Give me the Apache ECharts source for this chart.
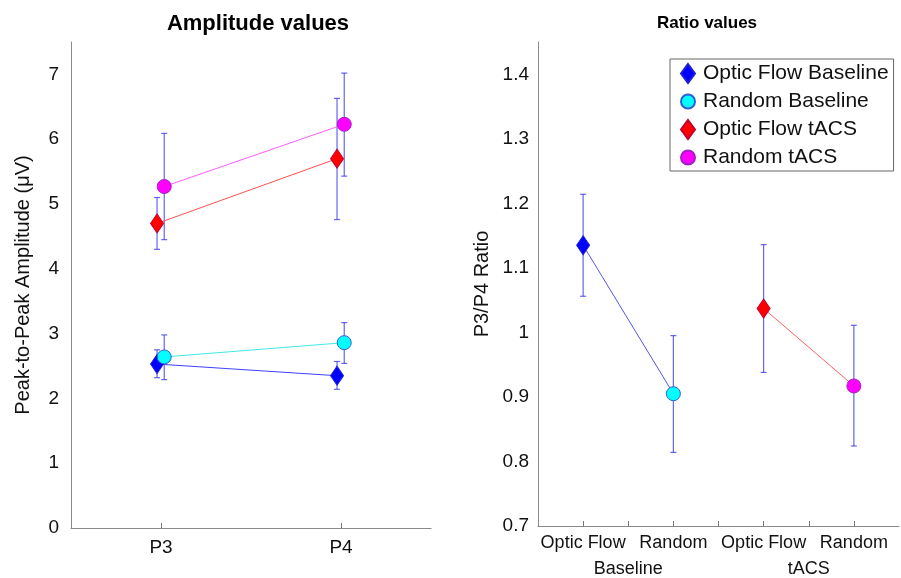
<!DOCTYPE html>
<html><head><meta charset="utf-8">
<script src="https://cdn.jsdelivr.net/npm/echarts@6/dist/echarts.min.js"></script>
<style>html,body{margin:0;padding:0;background:#fff}#c{width:901px;height:578px}</style>
</head><body><div id="c"></div>
<script>
// ---- data ----
const ampChannels = ['P3', 'P4'];
const ampOFBase = [2.53, 2.35];
const ampOFBaseLo = [2.32, 2.14];
const ampOFBaseHi = [2.75, 2.57];
const ampRandBase = [2.64, 2.86];
const ampRandBaseLo = [2.29, 2.54];
const ampRandBaseHi = [2.98, 3.17];
const ampOFtACS = [4.70, 5.70];
const ampOFtACSLo = [4.30, 4.76];
const ampOFtACSHi = [5.10, 6.63];
const ampRandtACS = [5.27, 6.23];
const ampRandtACSLo = [4.45, 5.43];
const ampRandtACSHi = [6.09, 7.02];

const ratioConditions = ['Optic Flow', 'Random', 'Optic Flow', 'Random'];
const ratioGroups = ['Baseline', 'tACS'];
const ratioMeans = [1.135, 0.905, 1.037, 0.917];
const ratioLo = [1.056, 0.814, 0.938, 0.824];
const ratioHi = [1.214, 0.995, 1.136, 1.011];

const seriesNames = ['Optic Flow Baseline', 'Random Baseline', 'Optic Flow tACS', 'Random tACS'];

// ---- styles ----
const FONT = 'Liberation Sans, Arial, sans-serif';
const fill = ['#0000ff', '#00ffff', '#ff0000', '#ff00ff'];
const lineCol = ['#4040ff', '#40e8e8', '#ff5050', '#ff5cff'];
const edge = ['#2020d0', '#3060d0', '#c00030', '#a020c0'];
const shapes = ['diamond', 'circle', 'diamond', 'circle'];
const sizes = [[13, 19], 14, [13, 19], 14];
const errCol = 'rgba(50,50,240,0.75)';
const offs = [-0.022, 0.018, -0.022, 0.018];

const chart = echarts.init(document.getElementById('c'), null, {renderer: 'canvas'});

function errRender(params, api) {
  const x = api.value(0);
  const p1 = api.coord([x, api.value(1)]);
  const p2 = api.coord([x, api.value(2)]);
  const c = 3;
  const st = {stroke: errCol, lineWidth: 1.2};
  return {type: 'group', children: [
    {type: 'line', shape: {x1: p1[0], y1: p1[1], x2: p2[0], y2: p2[1]}, style: st},
    {type: 'line', shape: {x1: p1[0]-c, y1: p1[1], x2: p1[0]+c, y2: p1[1]}, style: st},
    {type: 'line', shape: {x1: p2[0]-c, y1: p2[1], x2: p2[0]+c, y2: p2[1]}, style: st}
  ]};
}

const ampSets = [
  [ampOFBase, ampOFBaseLo, ampOFBaseHi],
  [ampRandBase, ampRandBaseLo, ampRandBaseHi],
  [ampOFtACS, ampOFtACSLo, ampOFtACSHi],
  [ampRandtACS, ampRandtACSLo, ampRandtACSHi]
];

const series = [];
// left panel
ampSets.forEach((set, k) => {
  const [m, lo, hi] = set;
  series.push({
    type: 'custom', xAxisIndex: 0, yAxisIndex: 0, renderItem: errRender, z: 3, silent: true,
    data: m.map((v, i) => [i + 1 + offs[k], lo[i], hi[i]])
  });
  series.push({
    type: 'line', name: seriesNames[k], xAxisIndex: 0, yAxisIndex: 0, z: 4,
    symbol: shapes[k], symbolSize: sizes[k],
    itemStyle: {color: fill[k], borderColor: edge[k], borderWidth: 1},
    lineStyle: {color: lineCol[k], width: 1},
    data: m.map((v, i) => [i + 1 + offs[k], v])
  });
});
// right panel connecting lines (Baseline pair, tACS pair)
ratioGroups.forEach((g, gi) => {
  series.push({
    type: 'line', name: g + ' line', xAxisIndex: 1, yAxisIndex: 1, symbol: 'none', z: 2,
    lineStyle: {color: gi === 0 ? '#5555ee' : '#ff6060', width: 1},
    data: [0, 1].map(j => [gi * 2 + j + 1, ratioMeans[gi * 2 + j]])
  });
});
series.push({
  type: 'custom', xAxisIndex: 1, yAxisIndex: 1, renderItem: errRender, z: 3, silent: true,
  data: ratioMeans.map((v, i) => [i + 1, ratioLo[i], ratioHi[i]])
});
ratioMeans.forEach((v, i) => {
  series.push({
    type: 'scatter', name: seriesNames[i], xAxisIndex: 1, yAxisIndex: 1, z: 5,
    symbol: shapes[i], symbolSize: sizes[i],
    itemStyle: {color: fill[i], borderColor: edge[i], borderWidth: 1, opacity: 1},
    data: [[i + 1, v]]
  });
});

const condLabelMap = {};
ratioConditions.forEach((c, i) => { condLabelMap[String(i + 1)] = c; });
const groupLabelMap = {};
ratioGroups.forEach((g, i) => { groupLabelMap[String(i * 2 + 1.5)] = g; });

const axLine = {show: true, lineStyle: {color: '#8a8a8a', width: 1}};
const lbl = {color: '#111', fontFamily: FONT, fontSize: 19};

chart.setOption({
  animation: false,
  backgroundColor: '#fff',
  title: [
    {text: 'Amplitude values', left: 253, top: 8, textAlign: 'center',
     textStyle: {fontFamily: FONT, fontWeight: 'bold', fontSize: 22, color: '#000'}},
    {text: 'Ratio values', left: 702, top: 10, textAlign: 'center',
     textStyle: {fontFamily: FONT, fontWeight: 'bold', fontSize: 17, color: '#000'}}
  ],
  legend: {
    orient: 'vertical', left: 670, top: 59,
    data: seriesNames.map((n, i) => ({name: n, icon: shapes[i]})),
    itemWidth: 14, itemHeight: 19, itemGap: 7,
    padding: [4, 5, 3, 10],
    borderColor: '#666', borderWidth: 1, backgroundColor: '#fff',
    textStyle: {fontFamily: FONT, fontSize: 21, color: '#111', padding: [0, 0, 0, 3]},
    selectedMode: false
  },
  grid: [
    {left: 71, right: 470, top: 42, bottom: 50},
    {left: 538, right: 2, top: 42, bottom: 50}
  ],
  xAxis: [
    {type: 'value', gridIndex: 0, min: 0.5, max: 2.5, interval: 0.5,
     axisLine: axLine, splitLine: {show: false},
     axisTick: {show: true, inside: true, length: 5, lineStyle: {color: '#777'}, customValues: [1, 2]},
     axisLabel: Object.assign({}, lbl, {margin: 10, customValues: [1, 2],
       formatter: v => ampChannels[Math.round(v) - 1] || ''})},
    {type: 'value', gridIndex: 1, min: 0.5, max: 4.5, interval: 0.5,
     axisLine: axLine, splitLine: {show: false},
     axisTick: {show: true, inside: true, length: 5, lineStyle: {color: '#777'}, customValues: [1, 1.5, 2, 2.5, 3, 3.5, 4]},
     axisLabel: Object.assign({}, lbl, {margin: 8, fontSize: 18, customValues: [1, 2, 3, 4],
       formatter: v => condLabelMap[String(v)] || ''})},
    {type: 'value', gridIndex: 1, min: 0.5, max: 4.5, interval: 0.5, position: 'bottom',
     axisLine: {show: false}, axisTick: {show: false}, splitLine: {show: false},
     axisLabel: Object.assign({}, lbl, {margin: 34, fontSize: 18, customValues: [1.5, 3.5],
       formatter: v => groupLabelMap[String(v)] || ''})}
  ],
  yAxis: [
    {type: 'value', gridIndex: 0, min: 0, max: 7.5, interval: 1,
     axisLine: axLine, axisTick: {show: false}, splitLine: {show: false},
     axisLabel: Object.assign({}, lbl, {margin: 12, showMaxLabel: false,
       formatter: v => (v > 7.01 ? '' : String(v))}),
     name: 'Peak-to-Peak Amplitude (\u03bcV)', nameLocation: 'middle', nameGap: 38,
     nameTextStyle: {fontFamily: FONT, fontSize: 20, color: '#111'}},
    {type: 'value', gridIndex: 1, min: 0.7, max: 1.45, interval: 0.1,
     axisLine: axLine, axisTick: {show: false}, splitLine: {show: false},
     axisLabel: Object.assign({}, lbl, {margin: 9,
       formatter: v => (v > 1.41 ? '' : String(Math.round(v * 10) / 10))}),
     name: 'P3/P4 Ratio', nameLocation: 'middle', nameGap: 46,
     nameTextStyle: {fontFamily: FONT, fontSize: 20, color: '#111'}}
  ],
  series: series
});
</script></body></html>
